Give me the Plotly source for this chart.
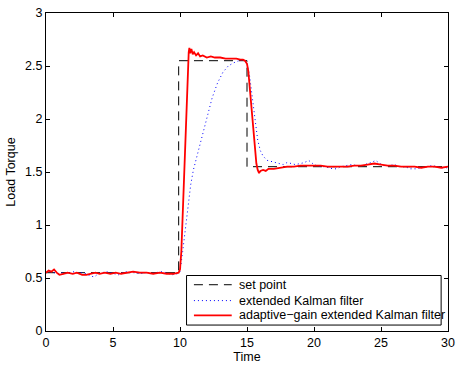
import plotly.graph_objects as go

sp_t = [0, 9.9, 9.9, 15.0, 15.0, 30]
sp_y = [0.55, 0.55, 2.55, 2.55, 1.55, 1.55]

ekf_t = [0, 0.3, 0.6, 0.9, 1.2, 1.5, 1.8, 2.1, 2.4, 2.7, 3.0, 3.3, 3.6, 3.9, 4.2, 4.5, 4.8, 5.1, 5.4, 5.7,
         6.0, 6.3, 6.6, 7.0, 7.4, 7.8, 8.2, 8.6, 9.0, 9.4, 9.8, 10.0, 10.2, 10.4, 10.6, 10.8, 11.0, 11.3,
         11.6, 12.0, 12.4, 12.8, 13.2, 13.6, 14.0, 14.4, 14.8, 15.0, 15.2, 15.4, 15.6, 15.8, 16.0, 16.2,
         16.5, 16.8, 17.1, 17.4, 17.7, 18.0, 18.3, 18.6, 19.0, 19.3, 19.6, 19.9, 20.2, 20.5, 20.8, 21.1,
         21.4, 21.7, 22.0, 22.4, 22.8, 23.2, 23.6, 24.0, 24.3, 24.6, 24.9, 25.2, 25.6, 26.0, 26.4, 26.8,
         27.2, 27.6, 28.0, 28.4, 28.8, 29.2, 29.6, 30.0]
ekf_y = [0.55, 0.56, 0.55, 0.54, 0.55, 0.54, 0.55, 0.56, 0.55, 0.55, 0.54, 0.52, 0.51, 0.54, 0.55, 0.56, 0.55, 0.54, 0.53, 0.55,
         0.56, 0.55, 0.55, 0.54, 0.55, 0.54, 0.55, 0.56, 0.55, 0.53, 0.54, 0.56, 0.75, 0.98, 1.20, 1.38, 1.52, 1.67,
         1.82, 2.02, 2.20, 2.34, 2.44, 2.50, 2.53, 2.55, 2.56, 2.53, 2.40, 2.20, 1.98, 1.80, 1.70, 1.65,
         1.61, 1.60, 1.59, 1.58, 1.57, 1.59, 1.58, 1.57, 1.58, 1.59, 1.61, 1.58, 1.56, 1.55, 1.55, 1.54,
         1.53, 1.53, 1.55, 1.56, 1.57, 1.56, 1.56, 1.58, 1.59, 1.61, 1.58, 1.56, 1.56, 1.57, 1.55, 1.55,
         1.53, 1.53, 1.54, 1.55, 1.56, 1.55, 1.54, 1.54]

ag_t = [0, 0.2, 0.4, 0.6, 0.8, 1.0, 1.3, 1.6, 2.0, 2.3, 2.7, 3.0, 3.3, 3.7, 4.0, 4.4, 4.8, 5.2, 5.6, 6.0,
        6.5, 7.0, 7.5, 8.0, 8.5, 9.0, 9.5, 9.9, 10.0, 10.1, 10.2, 10.3, 10.4, 10.5, 10.6, 10.65, 10.7, 10.75,
        10.85, 10.95, 11.05, 11.2, 11.35, 11.5, 11.7, 12.0, 12.3, 12.6, 13.0, 13.4, 13.8, 14.2, 14.5, 14.7,
        14.85, 15.0, 15.1, 15.2, 15.3, 15.4, 15.5, 15.6, 15.7, 15.8, 15.9, 16.0, 16.2, 16.4, 16.6, 17.0,
        17.5, 18.0, 18.5, 19.0, 19.5, 20.0, 20.5, 21.0, 21.5, 22.0, 22.5, 23.0, 23.5, 24.0, 24.5, 25.0,
        25.5, 26.0, 26.5, 27.0, 27.5, 28.0, 28.5, 29.0, 29.5, 30.0]
ag_y = [0.55, 0.57, 0.56, 0.58, 0.55, 0.53, 0.54, 0.55, 0.54, 0.55, 0.53, 0.53, 0.54, 0.55, 0.54, 0.55, 0.54, 0.55, 0.54, 0.55,
        0.56, 0.55, 0.55, 0.54, 0.55, 0.54, 0.54, 0.55, 0.58, 0.75, 1.10, 1.55, 1.95, 2.25, 2.50, 2.63, 2.67, 2.62,
        2.66, 2.61, 2.63, 2.60, 2.62, 2.59, 2.60, 2.58, 2.59, 2.58, 2.58, 2.57, 2.57, 2.57, 2.56, 2.56,
        2.55, 2.52, 2.45, 2.30, 2.15, 2.00, 1.85, 1.70, 1.58, 1.52, 1.49, 1.51, 1.52, 1.51, 1.53, 1.53,
        1.54, 1.55, 1.55, 1.56, 1.56, 1.56, 1.56, 1.55, 1.55, 1.55, 1.55, 1.56, 1.56, 1.57, 1.58, 1.57,
        1.56, 1.56, 1.55, 1.55, 1.55, 1.54, 1.55, 1.55, 1.54, 1.55]

series_names = ["set point", "extended Kalman filter", "adaptive\u2212gain extended Kalman filter"]

x_ticks = [0, 5, 10, 15, 20, 25, 30]
y_ticks = [0, 0.5, 1, 1.5, 2, 2.5, 3]
y_tick_labels = ["0", "0.5", "1", "1.5", "2", "2.5", "3"]

FONT = "Liberation Sans, Arial"
styles = [dict(color="black", width=1, dash="9px,6px"),
          dict(color="blue", width=1, dash="1px,3px"),
          dict(color="red", width=1.8)]

fig = go.Figure()
for t, y, name, st in zip([sp_t, ekf_t, ag_t], [sp_y, ekf_y, ag_y], series_names, styles):
    fig.add_trace(go.Scatter(x=t, y=y, mode="lines", name=name, line=st, showlegend=False))

# legend box (paper coordinates), drawn manually for compact spacing
leg_x0, leg_x1, leg_y0, leg_y1 = 0.3496, 0.9829, 0.0187, 0.1745
row_y = [0.1455, 0.0956, 0.0489]
sample_x0, sample_x1, text_x = 0.368, 0.462, 0.474
shapes = [dict(type="rect", xref="paper", yref="paper", x0=leg_x0, x1=leg_x1, y0=leg_y0, y1=leg_y1,
               line=dict(color="black", width=1), fillcolor="white", layer="above")]
annotations = []
for ry, name, st in zip(row_y, series_names, styles):
    shapes.append(dict(type="line", xref="paper", yref="paper", x0=sample_x0, x1=sample_x1, y0=ry, y1=ry,
                       line=st, layer="above"))
    annotations.append(dict(xref="paper", yref="paper", x=text_x, y=ry, text=name, showarrow=False,
                            xanchor="left", yanchor="middle",
                            font=dict(family=FONT, size=12.5, color="black")))

axis_common = dict(showgrid=False, zeroline=False, showline=True, linecolor="black", linewidth=1,
                   mirror="ticks", ticks="inside", ticklen=4, tickcolor="black",
                   tickfont=dict(family=FONT, size=12.5, color="black"))

fig.update_layout(
    width=461, height=367,
    margin=dict(l=46, r=6, t=13, b=33),
    paper_bgcolor="white", plot_bgcolor="white",
    shapes=shapes, annotations=annotations,
    xaxis=dict(range=[0, 30], tickvals=x_ticks, title=dict(text="Time", standoff=2,
               font=dict(family=FONT, size=12.5, color="black")), **axis_common),
    yaxis=dict(range=[0, 3], tickvals=y_ticks, ticktext=y_tick_labels,
               title=dict(text="Load Torque", standoff=6,
                          font=dict(family=FONT, size=12.5, color="black")), **axis_common),
)

fig.write_html("out.html")
